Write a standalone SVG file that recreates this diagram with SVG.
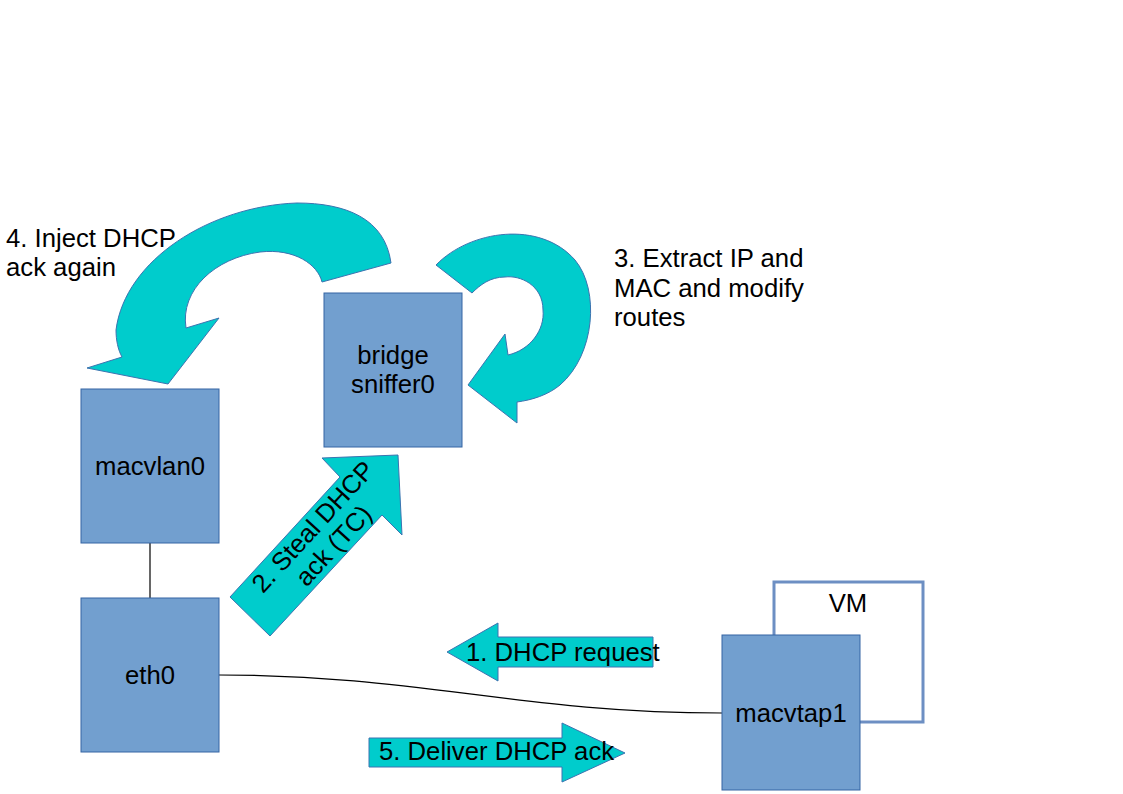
<svg xmlns="http://www.w3.org/2000/svg" width="1123" height="794" viewBox="0 0 1123 794">
  <style>
    text { font-family: "Liberation Sans", Arial, sans-serif; font-size: 25.7px; fill: #000; }
    .node { fill: #729fcf; stroke: #3465a4; stroke-width: 1; }
    .mid { text-anchor: middle; }
    .flow { fill: #00cccc; stroke: #3c73b0; stroke-width: 1; stroke-linejoin: miter; }
    .wire { fill: none; stroke: #000; stroke-width: 1.2; }
  </style>
  <rect width="1123" height="794" fill="#fff"/>

  <!-- VM frame behind macvtap1 -->
  <g id="vm">
    <rect x="774" y="582" width="149" height="140" fill="#fff" stroke="#6d8fc3" stroke-width="3"/>
    <text class="mid" x="848" y="612">VM</text>
  </g>

  <!-- wires between interfaces -->
  <g id="connectors">
    <path class="wire" d="M150,543 L150,598"/>
    <path class="wire" d="M219,675 C420,675 520,713 722,713"/>
  </g>

  <g id="macvlan0">
    <rect class="node" x="81" y="389" width="138" height="154"/>
    <text class="mid" x="150" y="475">macvlan0</text>
  </g>

  <g id="eth0">
    <rect class="node" x="81" y="598" width="138" height="154"/>
    <text class="mid" x="150" y="684">eth0</text>
  </g>

  <g id="sniffer0">
    <rect class="node" x="324" y="293" width="138" height="154"/>
    <text class="mid" x="393" y="364">bridge</text>
    <text class="mid" x="393" y="393">sniffer0</text>
  </g>

  <g id="macvtap1">
    <rect class="node" x="722" y="635" width="138" height="155"/>
    <text class="mid" x="791" y="722">macvtap1</text>
  </g>

  <!-- step 1: request leaves the VM -->
  <g id="step1">
    <path class="flow" d="M447,652 L498,623 L498,637 L653,637 L653,667 L498,667 L498,681 Z"/>
    <text x="466" y="661">1. DHCP request</text>
  </g>

  <!-- step 2: ack diverted up into the bridge -->
  <g id="step2">
    <path class="flow" d="M230,597 L340,477 L322,458 L398,455 L402,535 L382,515 L270,636 Z"/>
    <g transform="rotate(-47.5 323 536)">
      <text class="mid" x="323" y="531">2. Steal DHCP</text>
      <text class="mid" x="323" y="559">ack (TC)</text>
    </g>
  </g>

  <!-- step 3: loop around the bridge -->
  <g id="step3">
    <path class="flow" d="M436,265 C470,230 540,220 575,260 C600,290 595,355 560,385 C548,395 532,400 517,402 L517,423 L468,385 L505,334 L508,355 C530,350 545,330 543,310 C543,285 520,275 505,277 C490,277 480,285 472,293 Z"/>
    <text x="614" y="267">3. Extract IP and</text>
    <text x="614" y="297">MAC and modify</text>
    <text x="614" y="326">routes</text>
  </g>

  <!-- step 4: back over to macvlan0 -->
  <g id="step4">
    <path class="flow" d="M391,263 C385,218 345,203 297,203 C210,206 125,260 116,330 C116,340 118,350 122,357 L87,368 L168,384 L219,318 L186,328 C180,290 215,258 260,252 C295,248 318,265 322,282 Z"/>
    <text x="6" y="247">4. Inject DHCP</text>
    <text x="6" y="276">ack again</text>
  </g>

  <!-- step 5: ack handed to the VM -->
  <g id="step5">
    <path class="flow" d="M369,738 L562,738 L562,723 L625,753 L562,782 L562,767 L369,767 Z"/>
    <text x="379" y="760">5. Deliver DHCP ack</text>
  </g>
</svg>
